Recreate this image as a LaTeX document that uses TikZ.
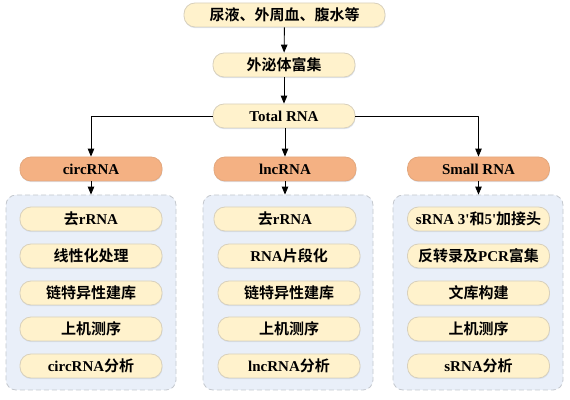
\documentclass[tikz,border=0pt]{standalone}
\usepackage{fontspec}
\setmainfont{Liberation Serif}
\newfontfamily\cjk{Noto Sans CJK SC}[BoldFont={Noto Sans CJK SC Bold}]
\newcommand\zh[1]{{\cjk #1}}
\usetikzlibrary{arrows.meta,shadows}
\definecolor{boxfill}{HTML}{FFF2CC}
\definecolor{boxline}{HTML}{D8D0BC}
\definecolor{rnafill}{HTML}{F4B183}
\definecolor{rnaline}{HTML}{E3A87E}
\definecolor{groupfill}{HTML}{E9EFF9}
\definecolor{groupline}{HTML}{C4C8CE}
\definecolor{shadowcol}{HTML}{C9D6EA}
\begin{document}
\begin{tikzpicture}[>={Triangle[length=8bp,width=6.5bp]},line join=bevel,
  stepbox/.style={draw=boxline,fill=boxfill,line width=0.8bp,rounded corners=11bp,
    minimum width=142bp,minimum height=24bp,inner sep=0pt,
    font=\fontsize{15bp}{16bp}\selectfont\bfseries,
    drop shadow={shadow xshift=0.4bp,shadow yshift=-1.2bp,opacity=0.6,fill=shadowcol}},
  rnabox/.style={stepbox,draw=rnaline,fill=rnafill},
  groupbox/.style={draw=groupline,fill=groupfill,dashed,line width=0.8bp,
    dash pattern=on 5bp off 3bp,rounded corners=10bp,
    minimum width=170bp,minimum height=195bp,inner sep=0pt},
  link/.style={->,line width=0.9bp,black}]
  \useasboundingbox (0,0) rectangle (570bp,400bp);
%%
  % Group boxes
  \node[groupbox] (Group_circ) at (91bp,107.5bp) {};
  \node[groupbox] (Group_lnc) at (288bp,107.5bp) {};
  \node[groupbox] (Group_small) at (478bp,107.5bp) {};
  % Node: Sample
  \node[stepbox,minimum width=201bp] (Sample) at (284.5bp,385bp) {\zh{尿液、外周血、腹水等}};
  % Node: Exosome
  \node[stepbox] (Exosome) at (284bp,335bp) {\zh{外泌体富集}};
  % Node: Total
  \node[stepbox] (Total) at (284bp,284bp) {Total RNA};
  % Node: circRNA, lncRNA, SmallRNA
  \node[rnabox] (Circ) at (91bp,231bp) {circRNA};
  \node[rnabox] (Lnc) at (285bp,231bp) {lncRNA};
  \node[rnabox] (Small) at (478.5bp,231bp) {Small RNA};
  % Nodes: circRNA steps
  \node[stepbox] (Circ_1) at (91bp,181bp) {\zh{去}rRNA};
  \node[stepbox] (Circ_2) at (91bp,144bp) {\zh{线性化处理}};
  \node[stepbox] (Circ_3) at (91bp,107bp) {\zh{链特异性建库}};
  \node[stepbox] (Circ_4) at (91bp,71bp) {\zh{上机测序}};
  \node[stepbox] (Circ_5) at (91bp,34bp) {circRNA\zh{分析}};
  % Nodes: lncRNA steps
  \node[stepbox] (Lnc_1) at (285bp,181bp) {\zh{去}rRNA};
  \node[stepbox] (Lnc_2) at (289bp,144bp) {RNA\zh{片段化}};
  \node[stepbox] (Lnc_3) at (289bp,107bp) {\zh{链特异性建库}};
  \node[stepbox] (Lnc_4) at (289bp,71bp) {\zh{上机测序}};
  \node[stepbox] (Lnc_5) at (289bp,34bp) {lncRNA\zh{分析}};
  % Nodes: Small RNA steps
  \node[stepbox] (Small_1) at (478.5bp,181bp) {sRNA 3\textquotesingle\zh{和}5\textquotesingle\zh{加接头}};
  \node[stepbox] (Small_2) at (478.5bp,144bp) {\zh{反转录及}PCR\zh{富集}};
  \node[stepbox] (Small_3) at (478.5bp,107bp) {\zh{文库构建}};
  \node[stepbox] (Small_4) at (478.5bp,71bp) {\zh{上机测序}};
  \node[stepbox] (Small_5) at (478.5bp,34bp) {sRNA\zh{分析}};
  % Edge: Sample -> Exosome
  \draw[link] (Sample) -- (Exosome);
  % Edge: Exosome -> Total
  \draw[link] (Exosome) -- (Total);
  % Edge: Total -> Circ
  \draw[link] (Total.west) -| (Circ.north);
  % Edge: Total -> Lnc
  \draw[link] (Total.south -| Lnc.north) -- (Lnc.north);
  % Edge: Total -> Small
  \draw[link] (Total.east) -| (Small.north);
  % Edge: RNA -> steps
  \draw[link] (Circ.south) -- (Circ.south |- Group_circ.north);
  \draw[link] (Lnc.south) -- (Lnc.south |- Group_lnc.north);
  \draw[link] (Small.south) -- (Small.south |- Group_small.north);
%
\end{tikzpicture}
\end{document}
